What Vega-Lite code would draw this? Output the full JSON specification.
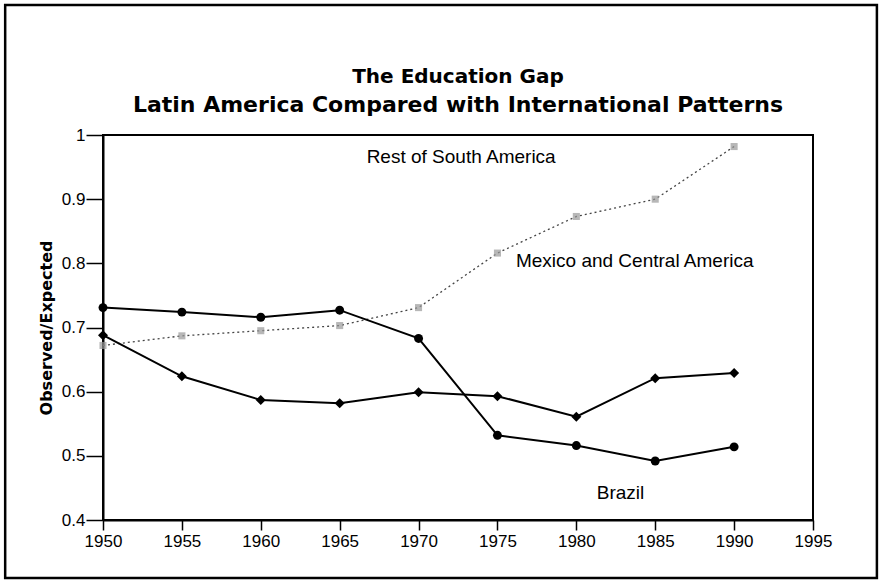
{
  "$schema": "https://vega.github.io/schema/vega-lite/v6.json",
  "width": 710,
  "height": 385,
  "autosize": "none",
  "padding": {"left": 103, "top": 135, "right": 67, "bottom": 61},
  "background": "white",
  "config": {
    "font": "Liberation Sans",
    "view": {"stroke": "black", "strokeWidth": 2},
    "axis": {"labelColor": "black", "tickColor": "black", "domainColor": "black", "titleColor": "black", "grid": false, "labelFontSize": 17, "labelFont": "Liberation Sans"}
  },
  "title": {
    "text": "The Education Gap",
    "subtitle": "Latin America Compared with International Patterns",
    "fontSize": 20,
    "fontWeight": "bold",
    "subtitleFontSize": 22,
    "subtitleFontWeight": "bold",
    "subtitleColor": "black",
    "color": "black",
    "anchor": "middle",
    "offset": -112,
    "subtitlePadding": 8,
    "font": "DejaVu Sans",
    "subtitleFont": "DejaVu Sans"
  },
  "datasets": {
    "series": [
      {"year": 1950, "value": 0.731, "series": "Brazil"},
      {"year": 1955, "value": 0.724, "series": "Brazil"},
      {"year": 1960, "value": 0.716, "series": "Brazil"},
      {"year": 1965, "value": 0.727, "series": "Brazil"},
      {"year": 1970, "value": 0.683, "series": "Brazil"},
      {"year": 1975, "value": 0.532, "series": "Brazil"},
      {"year": 1980, "value": 0.516, "series": "Brazil"},
      {"year": 1985, "value": 0.492, "series": "Brazil"},
      {"year": 1990, "value": 0.514, "series": "Brazil"},
      {"year": 1950, "value": 0.688, "series": "Rest of South America"},
      {"year": 1955, "value": 0.624, "series": "Rest of South America"},
      {"year": 1960, "value": 0.587, "series": "Rest of South America"},
      {"year": 1965, "value": 0.582, "series": "Rest of South America"},
      {"year": 1970, "value": 0.599, "series": "Rest of South America"},
      {"year": 1975, "value": 0.593, "series": "Rest of South America"},
      {"year": 1980, "value": 0.561, "series": "Rest of South America"},
      {"year": 1985, "value": 0.621, "series": "Rest of South America"},
      {"year": 1990, "value": 0.629, "series": "Rest of South America"},
      {"year": 1950, "value": 0.672, "series": "Mexico and Central America"},
      {"year": 1955, "value": 0.687, "series": "Mexico and Central America"},
      {"year": 1960, "value": 0.695, "series": "Mexico and Central America"},
      {"year": 1965, "value": 0.703, "series": "Mexico and Central America"},
      {"year": 1970, "value": 0.731, "series": "Mexico and Central America"},
      {"year": 1975, "value": 0.816, "series": "Mexico and Central America"},
      {"year": 1980, "value": 0.873, "series": "Mexico and Central America"},
      {"year": 1985, "value": 0.900, "series": "Mexico and Central America"},
      {"year": 1990, "value": 0.982, "series": "Mexico and Central America"}
    ]
  },
  "layer": [
    {
      "data": {"values": [{}]},
      "mark": {"type": "rect", "fill": "transparent", "stroke": "black", "strokeWidth": 2.5, "strokeOpacity": 1, "clip": false},
      "encoding": {
        "x": {"datum": 1943.8, "type": "quantitative", "scale": {"domain": [1950, 1995], "nice": false, "zero": false}, "axis": {"title": null, "values": [1950, 1955, 1960, 1965, 1970, 1975, 1980, 1985, 1990, 1995], "format": "d", "tickSize": 10, "domainWidth": 2, "tickWidth": 1.5, "labelPadding": 3, "labelFlush": false, "labelOverlap": false}},
        "x2": {"datum": 1999.05},
        "y": {"datum": 1.2026, "type": "quantitative", "scale": {"domain": [0.4, 1], "nice": false, "zero": false}, "axis": {"title": "Observed/Expected", "titleFontSize": 16, "titleFont": "DejaVu Sans", "titleFontWeight": "bold", "titlePadding": 7, "values": [0.4, 0.5, 0.6, 0.7, 0.8, 0.9, 1], "format": "~g", "tickSize": 17, "domainWidth": 2, "tickWidth": 1.5, "labelPadding": 1, "labelFlush": false, "labelOverlap": false}},
        "y2": {"datum": 0.3096}
      }
    },
    {
      "data": {"name": "series"},
      "transform": [{"filter": "datum.series === 'Mexico and Central America'"}],
      "mark": {"type": "line", "color": "#444", "strokeWidth": 1.3, "strokeDash": [2, 3]},
      "encoding": {"x": {"field": "year", "type": "quantitative"}, "y": {"field": "value", "type": "quantitative"}}
    },
    {
      "data": {"name": "series"},
      "transform": [{"filter": "datum.series === 'Mexico and Central America'"}],
      "mark": {"type": "point", "shape": "square", "filled": true, "color": "#999", "size": 50},
      "encoding": {"x": {"field": "year", "type": "quantitative"}, "y": {"field": "value", "type": "quantitative"}}
    },
    {
      "data": {"name": "series"},
      "transform": [{"filter": "datum.series !== 'Mexico and Central America'"}],
      "mark": {"type": "line", "color": "black", "strokeWidth": 2},
      "encoding": {"x": {"field": "year", "type": "quantitative"}, "y": {"field": "value", "type": "quantitative"}, "detail": {"field": "series"}}
    },
    {
      "data": {"name": "series"},
      "transform": [{"filter": "datum.series === 'Brazil'"}],
      "mark": {"type": "point", "shape": "circle", "filled": true, "color": "black", "size": 80, "opacity": 1},
      "encoding": {"x": {"field": "year", "type": "quantitative"}, "y": {"field": "value", "type": "quantitative"}}
    },
    {
      "data": {"name": "series"},
      "transform": [{"filter": "datum.series === 'Rest of South America'"}],
      "mark": {"type": "point", "shape": "diamond", "filled": true, "color": "black", "size": 100, "opacity": 1},
      "encoding": {"x": {"field": "year", "type": "quantitative"}, "y": {"field": "value", "type": "quantitative"}}
    },
    {
      "data": {"values": [{"label": "Rest of South America", "year": 1972.7, "value": 0.966}, {"label": "Mexico and Central America", "year": 1983.7, "value": 0.803}, {"label": "Brazil", "year": 1982.8, "value": 0.442}]},
      "mark": {"type": "text", "fontSize": 19, "color": "black", "align": "center", "baseline": "middle", "font": "Liberation Sans"},
      "encoding": {"x": {"field": "year", "type": "quantitative"}, "y": {"field": "value", "type": "quantitative"}, "text": {"field": "label"}}
    }
  ]
}
